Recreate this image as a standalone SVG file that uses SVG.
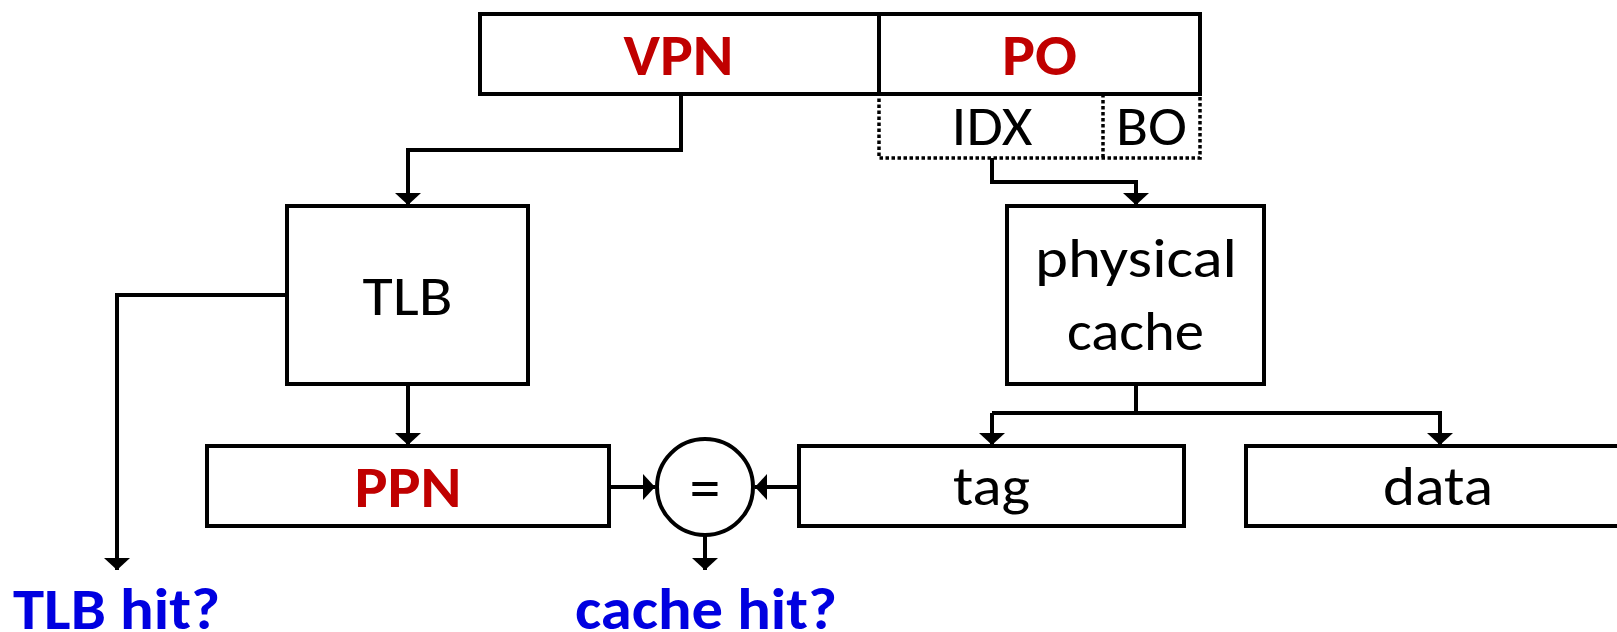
<svg xmlns="http://www.w3.org/2000/svg" width="1617" height="632" viewBox="0 0 1617 632">
  <style>
    .box { fill: #ffffff; stroke: #000000; stroke-width: 4; }
    .dot { fill: none; stroke: #000000; stroke-width: 3.5; stroke-dasharray: 3.5 2.5; }
    .wire { fill: none; stroke: #000000; stroke-width: 4; }
    .lbl { font-family: Carlito, Calibri, Lato, "Liberation Sans", sans-serif; font-size: 56px; fill: #000000; text-anchor: middle; }
    .key { font-family: Carlito, Calibri, Lato, "Liberation Sans", sans-serif; font-size: 59px; font-weight: bold; fill: #C00000; text-anchor: middle; }
    .out { font-family: Carlito, Calibri, Lato, "Liberation Sans", sans-serif; font-size: 59px; font-weight: bold; fill: #0000E0; text-anchor: middle; }
  </style>
  <defs>
    <marker id="arrow" markerUnits="userSpaceOnUse" markerWidth="14" markerHeight="28" viewBox="0 -14 14 28" refX="12" refY="0" orient="auto">
      <path d="M0,-13 L12,0 L0,13 Z" fill="#000000"/>
    </marker>
  </defs>

  <rect width="1617" height="632" fill="#ffffff"/>

  <!-- connectors -->
  <g id="connectors">
    <!-- VPN to TLB -->
    <polyline class="wire" points="681,94 681,150 408,150 408,205" marker-end="url(#arrow)"/>
    <!-- IDX to physical cache -->
    <polyline class="wire" points="992,158 992,182 1136,182 1136,205" marker-end="url(#arrow)"/>
    <!-- TLB to hit output -->
    <polyline class="wire" points="287,295 117,295 117,570" marker-end="url(#arrow)"/>
    <!-- TLB to PPN -->
    <polyline class="wire" points="408,384 408,445" marker-end="url(#arrow)"/>
    <!-- physical cache to tag and data -->
    <polyline class="wire" points="1136,384 1136,413"/>
    <polyline class="wire" points="992,413 1440,413 1440,445" marker-end="url(#arrow)"/>
    <polyline class="wire" points="992,413 992,445" marker-end="url(#arrow)"/>
    <!-- comparator inputs -->
    <polyline class="wire" points="609,487 655,487" marker-end="url(#arrow)"/>
    <polyline class="wire" points="799,487 755,487" marker-end="url(#arrow)"/>
    <!-- comparator output -->
    <polyline class="wire" points="705,535 705,570" marker-end="url(#arrow)"/>
  </g>

  <!-- virtual address fields -->
  <g id="po-split">
    <rect class="dot" x="879" y="94" width="321" height="64"/>
    <line class="dot" x1="1103" y1="94" x2="1103" y2="158"/>
    <text class="lbl" x="992" y="145" textLength="81" lengthAdjust="spacingAndGlyphs">IDX</text>
    <text class="lbl" x="1151.5" y="145" textLength="71" lengthAdjust="spacingAndGlyphs">BO</text>
  </g>
  <g id="vaddr">
    <rect class="box" x="480" y="14" width="720" height="80"/>
    <line class="box" x1="879" y1="14" x2="879" y2="94"/>
    <text class="key" x="678.5" y="75" textLength="110" lengthAdjust="spacingAndGlyphs">VPN</text>
    <text class="key" x="1039.5" y="75" textLength="75" lengthAdjust="spacingAndGlyphs">PO</text>
  </g>

  <g id="tlb">
    <rect class="box" x="287" y="206" width="241" height="178"/>
    <text class="lbl" x="407.5" y="315" textLength="90" lengthAdjust="spacingAndGlyphs">TLB</text>
  </g>

  <g id="cache">
    <rect class="box" x="1007" y="206" width="257" height="178"/>
    <text class="lbl" x="1136" y="277" textLength="202" lengthAdjust="spacingAndGlyphs">physical</text>
    <text class="lbl" x="1135.5" y="350" textLength="137" lengthAdjust="spacingAndGlyphs">cache</text>
  </g>

  <g id="ppn">
    <rect class="box" x="207" y="446" width="402" height="80"/>
    <text class="key" x="408" y="507" textLength="107" lengthAdjust="spacingAndGlyphs">PPN</text>
  </g>

  <g id="compare">
    <circle class="box" cx="705" cy="487" r="48"/>
    <text class="lbl" x="705" y="509" style="font-size:62px">=</text>
  </g>

  <g id="tag">
    <rect class="box" x="799" y="446" width="385" height="80"/>
    <text class="lbl" x="991.5" y="505" textLength="77" lengthAdjust="spacingAndGlyphs">tag</text>
  </g>

  <g id="data">
    <rect class="box" x="1246" y="446" width="400" height="80"/>
    <text class="lbl" x="1438" y="505" textLength="110" lengthAdjust="spacingAndGlyphs">data</text>
  </g>

  <g id="tlb-hit">
    <text class="out" x="116.5" y="629" textLength="207" lengthAdjust="spacingAndGlyphs">TLB hit?</text>
  </g>
  <g id="cache-hit">
    <text class="out" x="706" y="629" textLength="262" lengthAdjust="spacingAndGlyphs">cache hit?</text>
  </g>
</svg>
